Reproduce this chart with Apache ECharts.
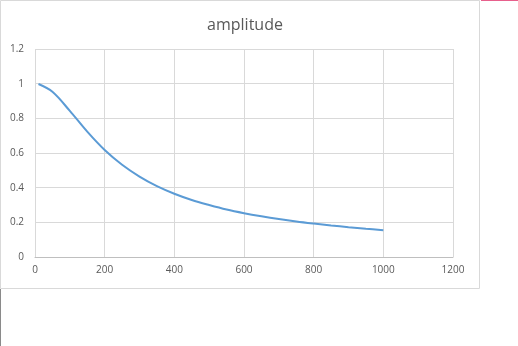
<!DOCTYPE html>
<html><head><meta charset="utf-8">
<script src="https://cdn.jsdelivr.net/npm/echarts@6/dist/echarts.min.js"></script>
<style>html,body{margin:0;padding:0;background:#fff}#c{width:518px;height:346px}</style>
</head><body><div id="c"></div>
<script>
const titleText = 'amplitude';
const xValues = [10, 50, 100, 150, 200, 250, 300, 350, 400, 450, 500, 550, 600, 650, 700, 750, 800, 850, 900, 950, 1000];
const amplitude = [0.998, 0.953, 0.843, 0.723, 0.617, 0.532, 0.464, 0.409, 0.365, 0.329, 0.300, 0.274, 0.253, 0.235, 0.219, 0.205, 0.193, 0.182, 0.172, 0.163, 0.155];
const xTicks = {min: 0, max: 1200, interval: 200};
const yTicks = {min: 0, max: 1.2, interval: 0.2};

const chart = echarts.init(document.getElementById('c'));
const lbl = {color: '#595959', fontSize: 10, fontFamily: 'Open Sans'};
chart.setOption({
  animation: false,
  title: {text: titleText, left: 240, top: 12, textAlign: 'center',
    textStyle: {color: '#595959', fontSize: 16, fontWeight: 'normal', fontFamily: 'Open Sans'}},
  graphic: [
    {type: 'rect', shape: {x: 0.5, y: 0.5, width: 479, height: 288}, style: {fill: 'none', stroke: '#d9d9d9', lineWidth: 1}, z: -1},
    {type: 'line', shape: {x1: 481, y1: 0.5, x2: 518, y2: 0.5}, style: {stroke: '#e7608c', lineWidth: 1}},
    {type: 'line', shape: {x1: 0.5, y1: 289, x2: 0.5, y2: 346}, style: {stroke: '#8a8a8a', lineWidth: 1}}
  ],
  grid: {left: 35, right: 65, top: 49, bottom: 89},
  xAxis: {type: 'value', min: xTicks.min, max: xTicks.max, interval: xTicks.interval,
    axisLine: {show: true, lineStyle: {color: '#bfbfbf'}}, axisTick: {show: false},
    axisLabel: Object.assign({margin: 8, formatter: v => String(v)}, lbl),
    splitLine: {show: true, lineStyle: {color: '#d9d9d9'}}},
  yAxis: {type: 'value', min: yTicks.min, max: yTicks.max, interval: yTicks.interval,
    axisLine: {show: false}, axisTick: {show: false},
    axisLabel: Object.assign({margin: 11, formatter: v => String(Math.round(v * 10) / 10)}, lbl),
    splitLine: {show: true, lineStyle: {color: '#d9d9d9'}}},
  series: [{type: 'line', data: xValues.map((x, i) => [x, amplitude[i]]), smooth: 0.35, showSymbol: false,
    lineStyle: {color: '#5b9bd5', width: 2}}]
});
</script></body></html>
